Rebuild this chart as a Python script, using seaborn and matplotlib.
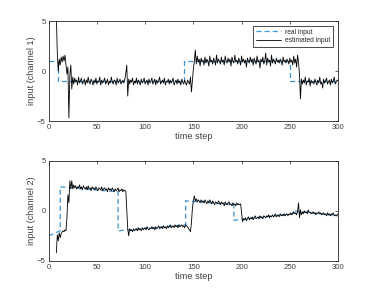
import numpy as np
import pandas as pd
import matplotlib
matplotlib.use("Agg")
import matplotlib.pyplot as plt
import seaborn as sns

# real input (piecewise, breakpoints)
real1_t = [0, 10, 10, 140, 140, 250, 250, 300]
real1_v = [1, 1, -1, -1, 1, 1, -1, -1]
real2_t = [0, 12, 12, 72, 72, 142, 142, 192, 192, 253, 253, 300]
real2_v = [-2.5, -2.0, 2.4, 1.9, -2.0, -1.4, 1.0, 0.6, -0.95, -0.3, 0.0, -0.5]

# estimated input, time steps 8..300
est_t = list(range(8, 301))
est1_v = [
    5.5, 1.8, 0.0, 1.2, 0.6, 1.4, 0.9, 1.5, 1.0, 1.6,
    0.6, -0.3, 0.4, -4.7, -0.4, 0.6, -1.8, -0.6, -1.3, -0.7,
    -1.1, -0.9, -1.4, -0.6, -1.2, -1.0, -0.7, -1.3, -1.1, -0.8,
    -1.4, -0.9, -1.2, -0.6, -1.1, -1.3, -0.8, -1.0, -1.4, -0.9,
    -1.2, -0.7, -1.3, -1.0, -1.1, -0.6, -1.4, -0.9, -1.2, -1.0,
    -0.7, -1.3, -1.1, -0.8, -1.4, -1.0, -1.2, -0.6, -1.1, -1.3,
    -0.9, -1.0, -1.4, -0.7, -1.2, -1.0, -0.8, -1.3, -1.1, -0.9,
    -1.2, -0.8, -0.2, 0.6, -2.5, -0.8, -1.3, -0.9, -1.1, -0.7,
    -1.4, -1.0, -1.2, -0.7, -1.3, -0.9, -1.1, -1.4, -0.8, -1.2,
    -1.0, -0.7, -1.3, -1.1, -0.9, -1.4, -0.8, -1.2, -1.0, -0.7,
    -1.3, -1.1, -0.8, -1.4, -0.9, -1.2, -1.0, -0.6, -1.3, -1.1,
    -0.9, -1.2, -0.7, -1.4, -1.0, -1.1, -0.8, -1.3, -0.9, -1.2,
    -1.0, -0.7, -1.4, -1.1, -0.9, -1.3, -0.8, -1.2, -1.0, -1.4,
    -0.8, -1.1, -1.3, -0.9, -1.2, -1.4, -0.9, -1.1, -1.3, -0.6,
    -2.1, -1.0, 0.2, 1.0, 2.1, 0.7, 1.5, 0.9, 1.2, 0.5,
    1.3, 0.9, 1.1, 0.6, 1.4, 0.8, 1.2, 1.0, 0.5, 1.5,
    0.9, 1.1, 0.7, 1.3, 1.0, 0.6, 1.6, 0.8, 1.2, 1.0,
    0.7, 1.4, 0.9, 1.1, 0.6, 1.5, 1.0, 0.8, 1.3, 0.9,
    1.2, 0.5, 1.4, 1.0, 0.8, 1.6, 0.9, 1.1, 0.7, 1.3,
    1.0, 0.6, 1.5, 0.9, 1.2, 0.8, 1.1, 0.4, 1.3, 1.0,
    0.8, 1.4, 0.9, 1.2, 0.6, 1.3, 1.0, 0.7, 1.5, 0.9,
    1.1, 0.3, 1.2, 0.9, 1.4, 0.7, 1.0, 1.8, 0.6, 1.3,
    0.9, 1.1, 0.5, 1.6, 0.8, 1.2, 1.0, 0.7, 1.3, 0.9,
    1.1, 0.8, 1.2, 1.0, 0.6, 1.4, 0.9, 1.1, 0.8, 1.2,
    1.0, 0.7, 1.3, 0.9, 1.1, 0.6, 1.5, 0.8, 1.2, 0.4,
    1.6, 0.9, -0.4, -2.8, -0.8, -1.3, -0.9, -1.2, -0.6, -1.4,
    -1.0, -1.1, -0.7, -1.5, -0.9, -1.2, -1.0, -1.3, -0.8, -1.1,
    -1.4, -0.9, -1.2, -0.6, -1.3, -1.1, -1.7, -0.8, -1.2, -1.0,
    -0.7, -1.3, -1.1, -0.9, -1.4, -0.8, -1.2, -1.0, -0.6, -1.3,
    -1.1, -0.9, -1.0,
]
est2_v = [
    -4.2, -2.4, -3.0, -2.2, -2.7, -2.3, -2.1, -2.0, -2.1, -1.9,
    -2.0, -0.6, 1.6, 0.8, 3.0, 2.2, 3.0, 2.2, 2.6, 2.3,
    2.5, 2.2, 2.4, 2.3, 2.6, 2.2, 2.4, 2.1, 2.5, 2.3,
    2.2, 2.4, 2.1, 2.5, 2.2, 2.3, 2.0, 2.4, 2.2, 2.3,
    2.1, 2.4, 2.2, 2.0, 2.3, 2.2, 2.1, 2.4, 2.0, 2.2,
    2.3, 2.1, 2.2, 1.9, 2.3, 2.1, 2.2, 2.0, 2.3, 2.1,
    1.9, 2.2, 2.0, 2.1, 2.3, 1.9, 2.1, 2.0, 2.2, 1.9,
    2.1, 2.0, 2.0, 0.0, -1.8, -2.5, -1.8, -2.0, -1.9, -2.1,
    -1.8, -2.0, -1.9, -1.8, -2.0, -1.7, -1.9, -1.8, -2.0, -1.7,
    -1.9, -1.8, -1.7, -1.9, -1.6, -1.8, -1.9, -1.7, -1.8, -1.6,
    -1.8, -1.7, -1.9, -1.6, -1.8, -1.7, -1.5, -1.8, -1.7, -1.6,
    -1.8, -1.5, -1.7, -1.6, -1.8, -1.5, -1.7, -1.6, -1.4, -1.7,
    -1.6, -1.5, -1.7, -1.4, -1.6, -1.5, -1.7, -1.4, -1.6, -1.5,
    -1.4, -1.6, -1.5, -1.7, -1.4, -1.5, -1.6, -1.8, -1.9, -2.1,
    -1.2, 0.2, 1.0, 1.5, 1.0, 1.2, 0.9, 1.1, 1.0, 0.8,
    1.1, 0.9, 1.0, 0.8, 1.1, 0.9, 0.7, 1.0, 0.8, 1.1,
    0.9, 0.7, 1.0, 0.8, 0.6, 0.9, 0.8, 0.7, 1.0, 0.8,
    0.6, 0.9, 0.7, 0.8, 0.5, 0.9, 0.7, 0.6, 0.8, 0.9,
    0.6, 0.7, 0.5, 0.8, 0.6, 0.7, 0.5, 0.8, 0.6, 0.7,
    0.6, 0.7, -0.2, -1.1, -0.8, -0.9, -0.7, -1.0, -0.8, -0.6,
    -0.9, -0.7, -0.8, -0.6, -0.9, -0.7, -0.5, -0.8, -0.7, -0.6,
    -0.8, -0.5, -0.7, -0.6, -0.8, -0.5, -0.6, -0.7, -0.5, -0.6,
    -0.4, -0.7, -0.5, -0.6, -0.4, -0.6, -0.5, -0.3, -0.6, -0.5,
    -0.4, -0.6, -0.3, -0.5, -0.4, -0.5, -0.3, -0.5, -0.4, -0.3,
    -0.5, -0.3, -0.4, -0.2, -0.4, -0.3, -0.1, -0.3, -0.2, -0.4,
    -0.1, 0.8, -0.7, 0.1, -0.4, -0.1, -0.3, 0.0, -0.2, -0.1,
    -0.3, 0.1, -0.2, -0.1, -0.3, -0.2, -0.1, -0.3, -0.2, -0.4,
    -0.2, -0.3, -0.1, -0.3, -0.2, -0.4, -0.3, -0.2, -0.4, -0.3,
    -0.5, -0.2, -0.4, -0.3, -0.5, -0.3, -0.4, -0.2, -0.5, -0.4,
    -0.5, -0.4, -0.3,
]

ylabels = ["input (channel 1)", "input (channel 2)"]

sns.set_theme(style="white")
plt.rcParams.update({
    "font.family": ["Liberation Sans", "DejaVu Sans"],
    "xtick.direction": "in",
    "ytick.direction": "in",
    "xtick.top": True,
    "ytick.right": True,
    "xtick.major.size": 2.5,
    "ytick.major.size": 2.5,
    "xtick.major.width": 0.5,
    "ytick.major.width": 0.5,
    "axes.linewidth": 0.6,
    "axes.edgecolor": "#262626",
})

fig = plt.figure(figsize=(3.74, 2.93), dpi=100)
ax1 = fig.add_axes([0.13, 0.587, 0.774, 0.341])
ax2 = fig.add_axes([0.13, 0.110, 0.774, 0.341])

blue = "#3d94d3"
text_col = "#404040"
series = [(ax1, real1_t, real1_v, est1_v), (ax2, real2_t, real2_v, est2_v)]
for i, (ax, rt, rv, ev) in enumerate(series):
    real_df = pd.DataFrame({"t": rt, "v": rv})
    est_df = pd.DataFrame({"t": est_t, "v": ev})
    ax.plot(real_df["t"], real_df["v"], color=blue, lw=0.9,
            dashes=(4, 2.5), label="real input")
    sns.lineplot(data=est_df, x="t", y="v", ax=ax, color="black", lw=0.6,
                 label="estimated input", sort=False, estimator=None)
    ax.set_xlim(0, 300)
    ax.set_ylim(-5, 5)
    ax.set_xticks([0, 50, 100, 150, 200, 250, 300])
    ax.set_yticks([-5, 0, 5])
    ax.tick_params(labelsize=5.6, colors="#262626", labelcolor=text_col, pad=2)
    ax.set_xlabel("time step", fontsize=6.6, labelpad=1, color=text_col)
    ax.set_ylabel(ylabels[i], fontsize=6.6, labelpad=1, color=text_col)
    for s in ax.spines.values():
        s.set_visible(True)
    if i == 0:
        leg = ax.legend(loc="upper right", fontsize=4.8, frameon=True,
                        fancybox=False, edgecolor="black", framealpha=1,
                        handlelength=3.8, handletextpad=0.6, borderpad=0.45,
                        labelspacing=0.2, borderaxespad=0.7)
        leg.get_frame().set_linewidth(0.5)
    elif ax.get_legend():
        ax.get_legend().remove()

fig.savefig("out.png", dpi=100)
